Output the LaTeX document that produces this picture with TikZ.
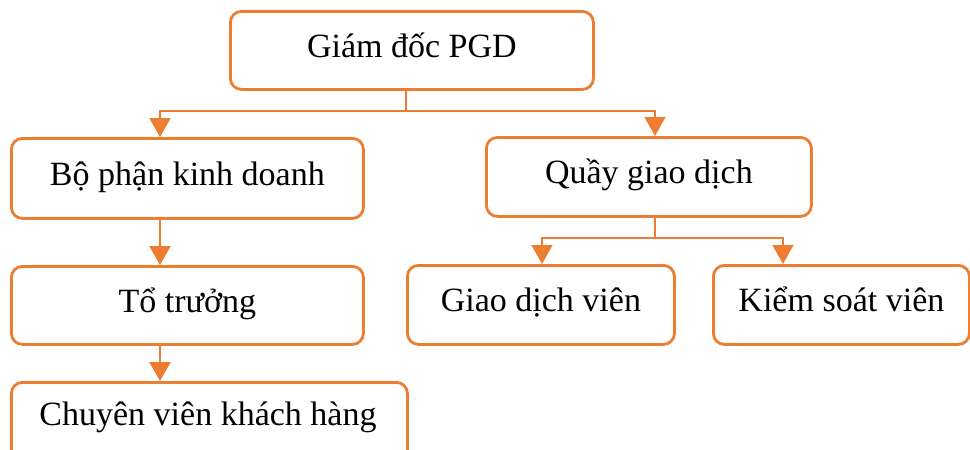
\documentclass[tikz,border=0pt]{standalone}
\usepackage{fontspec}
\setmainfont{Liberation Serif}
\usetikzlibrary{arrows.meta}
\definecolor{org}{HTML}{ED7D31}
\begin{document}
\begin{tikzpicture}[x=1pt,y=-1pt,
  box/.style={draw=org,line width=2.8pt,rounded corners=11pt,fill=white,
    font=\fontsize{34}{40}\selectfont,inner sep=0pt,anchor=north west,
    text height=22pt,text depth=8pt},
  link/.style={draw=org,line width=1.4pt},
  arr/.style={draw=org,line width=1.4pt,-{Triangle[width=21pt,length=19pt]}},
  tarr/.style={draw=org,line width=2.4pt,-{Triangle[width=21pt,length=19pt]}}]
\useasboundingbox (0,0) rectangle (970,450);
\clip (0,0) rectangle (970,450);
\node[box,minimum width=363pt,minimum height=78pt] (gd) at (229,10) {Giám đốc PGD};
\node[box,minimum width=352pt,minimum height=80pt] (bp) at (10,137) {Bộ phận kinh doanh};
\node[box,minimum width=325pt,minimum height=79pt] (qg) at (485,136) {Quầy giao dịch};
\node[box,minimum width=352pt,minimum height=78pt] (tt) at (10,265) {Tổ trưởng};
\node[box,minimum width=267pt,minimum height=79pt] (gdv) at (406,264) {Giao dịch viên};
\node[box,minimum width=256pt,minimum height=79pt] (ksv) at (712,264) {Kiểm soát viên};
\node[box,minimum width=396pt,minimum height=80pt] (cv) at (10,381) {};
\node[font=\fontsize{34}{40}\selectfont,inner sep=0pt,text height=22pt,text depth=8pt] (cvt) at (208,418) {Chuyên viên khách hàng};
\coordinate (j1) at (406,111);
\coordinate (xl) at (160,0);
\coordinate (xr) at (655,0);
\coordinate (j2) at (655,238);
\coordinate (xgl) at (542,0);
\coordinate (xgr) at (783,0);
\draw[link] (gd.south -| j1) -- (j1);
\draw[arr] (j1) -| (bp.north -| xl);
\draw[arr] (j1) -| (qg.north -| xr);
\draw[tarr] (bp.south -| xl) -- (tt.north -| xl);
\draw[tarr] (tt.south -| xl) -- (cv.north -| xl);
\draw[link] (qg.south -| j2) -- (j2);
\draw[arr] (j2) -| (gdv.north -| xgl);
\draw[arr] (j2) -| (ksv.north -| xgr);
\end{tikzpicture}
\end{document}
